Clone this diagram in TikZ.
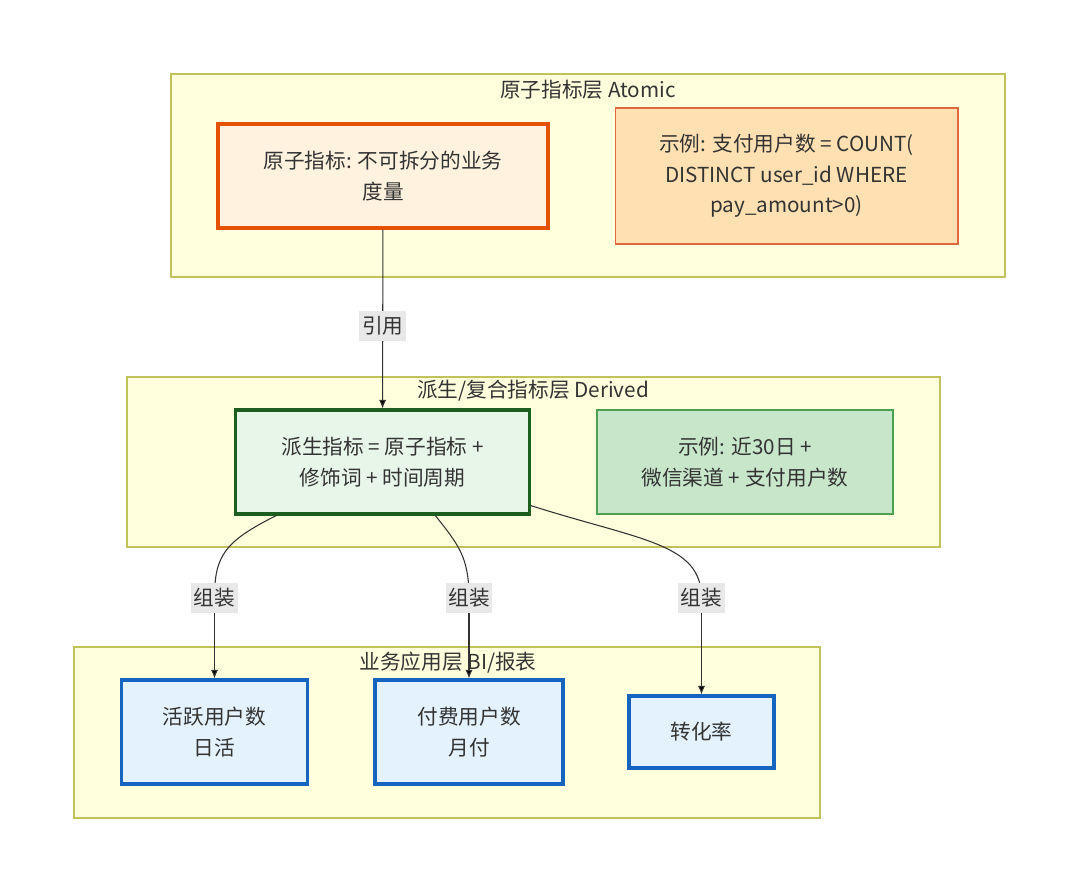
\documentclass[tikz,border=0pt]{standalone}
\usepackage{fontspec}
\setmainfont{Noto Sans CJK SC}
\usepackage{tikz}
\usetikzlibrary{arrows.meta,calc}
\definecolor{inkgray}{HTML}{333333}
\definecolor{laneyellow}{HTML}{FFFFDE}
\definecolor{laneborder}{HTML}{C2C25A}
\definecolor{atomfill}{HTML}{FFF3E0}
\definecolor{atomdraw}{HTML}{E65100}
\definecolor{samplefill}{HTML}{FFE0B2}
\definecolor{sampledraw}{HTML}{E0683E}
\definecolor{derivfill}{HTML}{E8F5E9}
\definecolor{derivdraw}{HTML}{1B5E20}
\definecolor{dsamplefill}{HTML}{C8E6C9}
\definecolor{dsampledraw}{HTML}{4CA050}
\definecolor{appfill}{HTML}{E3F2FD}
\definecolor{appdraw}{HTML}{1565C0}
\definecolor{tagfill}{HTML}{E8E8E8}

\begin{document}
\begin{tikzpicture}[x=0.75pt,y=-0.75pt,->,>={Latex[length=6.5pt,width=5.5pt]},semithick,
                    font=\fontsize{15.5}{23}\selectfont,text=inkgray]
  \tikzstyle{lane}=[draw=laneborder,fill=laneyellow,line width=1.1pt]
  \tikzstyle{laneTitle}=[inner sep=0pt]
  \tikzstyle{box}=[rectangle,align=center,inner sep=0pt]
  \tikzstyle{atom}=[box,fill=atomfill,draw=atomdraw,line width=2.3pt]
  \tikzstyle{atomSample}=[box,fill=samplefill,draw=sampledraw,line width=1pt]
  \tikzstyle{deriv}=[box,fill=derivfill,draw=derivdraw,line width=2.3pt]
  \tikzstyle{derivSample}=[box,fill=dsamplefill,draw=dsampledraw,line width=1pt]
  \tikzstyle{app}=[box,fill=appfill,draw=appdraw,line width=2.3pt]
  \tikzstyle{tag}=[fill=tagfill,inner xsep=2pt,inner ysep=4pt,text=inkgray]
  \tikzstyle{link}=[draw=inkgray,line width=0.8pt]

  \useasboundingbox (0,0) rectangle (1080,894);

  % layers
  \draw[lane,-] (171,74) rectangle (1005,277);
  \draw[lane,-] (127,377) rectangle (940,547);
  \draw[lane,-] (74,647) rectangle (820,818);
  \node[laneTitle] (tAtomic)  at (588,90)  {原子指标层 Atomic};
  \node[laneTitle] (tDerived) at (533,391) {派生/复合指标层 Derived};

  % nodes
  \node[atom,minimum width=247.5pt,minimum height=78pt] (atomic) at (383,176)
        {原子指标: 不可拆分的业务\\度量};
  \node[atomSample,minimum width=257pt,minimum height=102pt] (atomEx) at (786.5,176)
        {示例: 支付用户数 = COUNT(\\DISTINCT user\_id WHERE\\pay\_amount>0)};
  \node[deriv,minimum width=220pt,minimum height=78pt] (derived) at (382.5,462)
        {派生指标 = 原子指标 +\\修饰词 + 时间周期};
  \node[derivSample,minimum width=222pt,minimum height=78pt] (derivEx) at (745,462)
        {示例: 近30日 +\\微信渠道 + 支付用户数};
  \node[app,minimum width=140pt,minimum height=78pt] (dau) at (214.5,732)
        {活跃用户数\\日活};
  \node[app,minimum width=141pt,minimum height=78pt] (paid) at (469,732)
        {付费用户数\\月付};
  \node[app,minimum width=108.75pt,minimum height=54pt] (conv) at (701.5,732)
        {转化率};

  % label anchors
  \coordinate (k1) at (214.5,598);
  \coordinate (k2) at (469,598);
  \coordinate (k3) at (701.5,598);

  \path[link] (atomic) edge (derived);
  \draw[link,-] ([xshift=31.5pt]derived.south west) .. controls +(-52,26) and +(0,-42) .. (k1);
  \draw[link,-] ([xshift=150.75pt]derived.south west) .. controls +(24,30) and +(0,-40) .. (k2);
  \draw[link,-] ([yshift=7.5pt]derived.south east) .. controls +(110,35) and +(0,-55) .. (k3);
  \path[link] (k1) edge (dau.north)
              (k2) edge (paid.north)
              (k3) edge (conv.north);

  % labels
  \node[tag] (lRef) at ($(atomic.south)!0.54!(derived.north)$) {引用};
  \node[tag] (l1) at (k1) {组装};
  \node[tag] (l2) at (k2) {组装};
  \node[tag] (l3) at (k3) {组装};

  \node[laneTitle,fill=none] (tApp) at (448,663) {业务应用层 BI/报表};
\end{tikzpicture}
\end{document}
